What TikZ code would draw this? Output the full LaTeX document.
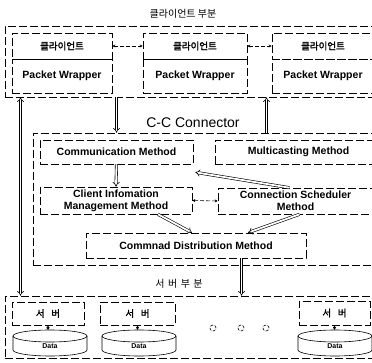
\documentclass[tikz,border=0pt]{standalone}
\usepackage{fontspec}
\setmainfont{Liberation Sans}
\newfontfamily\kr{Noto Sans CJK KR}
\newfontfamily\krb{Noto Sans CJK KR}[FakeBold=2]
\usetikzlibrary{arrows.meta,calc}
\begin{document}
\begin{tikzpicture}[x=1pt,y=-1pt,
  ln/.style={line width=.6pt, dash pattern=on 8pt off 3pt},
  box/.style={ln, draw, inner sep=0pt, align=center},
  grp/.style={ln, draw, inner sep=0pt},
  en/.style={font=\bfseries\fontsize{10.5}{12}\selectfont},
  ko/.style={font=\krb\fontsize{9.5}{11}\selectfont},
  dbl/.style={draw, line width=.6pt, double, double distance=1.8pt, -{Implies}},
  dbll/.style={draw, line width=.6pt, double, double distance=1.8pt, {Implies}-{Implies}},
  dsh/.style={ln, dash pattern=on 4pt off 2pt, {Stealth[length=3pt,width=3pt]}-{Stealth[length=3pt,width=3pt]}},
  cylr/.style={line width=.6pt}
]
\useasboundingbox (0,0) rectangle (372,363);
\clip (0,0) rectangle (372,363);

% client part
\node[font=\kr\fontsize{10}{12}\selectfont] (ctitle) at (183,14) {클라이언트 부분};
\node[grp, minimum width=377pt, minimum height=71pt] (cgroup) at (193.5,61.5) {};
\node[box, ko, minimum width=100pt, minimum height=26pt] (c1top) at (62,46) {클라이언트};
\node[box, en, minimum width=100pt, minimum height=34pt] (c1pw) at (62,76) {Packet Wrapper};
\node[box, ko, minimum width=104pt, minimum height=26pt] (c2top) at (195,46) {클라이언트};
\node[box, en, minimum width=104pt, minimum height=34pt] (c2pw) at (195,76) {Packet Wrapper};
\node[box, ko, minimum width=102pt, minimum height=26pt] (c3top) at (323,46) {클라이언트};
\node[box, en, minimum width=102pt, minimum height=34pt] (c3pw) at (323,76) {Packet Wrapper};
\draw[dsh] (c1top.east) -- (c2top.west);
\draw[dsh] (c2top.east) -- (c3top.west);

% C-C connector
\node[font=\fontsize{14}{16}\selectfont] (ccl) at (193,123) {C-C Connector};
\node[grp, minimum width=349pt, minimum height=132pt] (cc) at (207.5,199) {};
\node[box, en, minimum width=153pt, minimum height=24pt] (comm) at (116.5,152) {Communication Method};
\node[box, en, minimum width=167pt, minimum height=24pt] (multi) at (298.5,152) {Multicasting Method};
\node[box, en, minimum width=152pt, minimum height=27pt] (cinfo) at (116,200.5) {Client Infomation\\Management Method};
\node[box, en, minimum width=155pt, minimum height=26pt] (sched) at (295.5,201) {Connection Scheduler\\Method};
\node[box, en, minimum width=220pt, minimum height=25pt] (cmd) at (196,245.5) {Commnad Distribution Method};

% server part
\node[font=\kr\fontsize{10}{12}\selectfont] (stitle) at (179,284) {서\hspace{0.35em}버\hspace{0.35em}부\hspace{0.35em}분};
\node[grp, minimum width=377pt, minimum height=62pt] (sgroup) at (193.5,327) {};
\node[box, ko, minimum width=72pt, minimum height=23pt] (sv1) at (48,313.5) {서\hspace{0.7em}버};
\node[box, ko, minimum width=75pt, minimum height=23pt] (sv2) at (137.5,313.5) {서\hspace{0.7em}버};
\node[box, ko, minimum width=71pt, minimum height=24pt] (sv3) at (334.5,313) {서\hspace{0.7em}버};

% cylinders
\foreach \cx/\n in {50/1,139/2,335/3}{
  \draw[cylr] (\cx-37,336) -- (\cx-37,350) arc[start angle=180,end angle=360,x radius=37pt,y radius=6pt] -- (\cx+37,336);
  \draw[cylr] (\cx,336) ellipse[x radius=37pt, y radius=6pt];
  \node[font=\bfseries\fontsize{7}{8}\selectfont] (data\n) at (\cx,346) {Data};
  \coordinate (dt\n) at (\cx,330);
}
\draw[dsh, dash pattern=on 1.5pt off 1pt] (sv1.south) -- (sv1.south |- dt1);
\draw[dsh, dash pattern=on 1.5pt off 1pt] (sv2.south) -- (sv2.south |- dt2);
\draw[dsh, dash pattern=on 1.5pt off 1pt] (sv3.south) -- (sv3.south |- dt3);

% ellipsis circles
\foreach \x/\n in {213/1,241/2,266/3}{
  \node[draw, circle, line width=.6pt, dash pattern=on 3pt off 1.5pt, minimum size=6pt, inner sep=0pt] (dot\n) at (\x,328) {};
}

% connectors
\coordinate (lx) at (20.5,0);
\coordinate (ux) at (266.5,0);
\coordinate (dx) at (241.5,0);
\draw[dbll] (cgroup.south -| lx) -- (sgroup.north -| lx);
\draw[dbl] (cgroup.south -| comm.north) -- (cc.north -| comm.north);
\draw[dbl] (cc.north -| ux) -- (cgroup.south -| ux);
\draw[dbl] (comm.south) -- (cinfo.north);
\draw[dbl] ([xshift=-6pt]sched.north) -- ([xshift=2pt,yshift=-8pt]comm.south east);
\draw[dsh] (cinfo.east) -- (sched.west);
\draw[dbl] ([xshift=42pt]cinfo.south) -- ([xshift=-4pt]cmd.north);
\draw[dbl] ([xshift=4pt]sched.south) -- ([xshift=52pt]cmd.north);
\draw[dbl] (cmd.south -| dx) -- (sgroup.north -| dx);
\end{tikzpicture}
\end{document}
